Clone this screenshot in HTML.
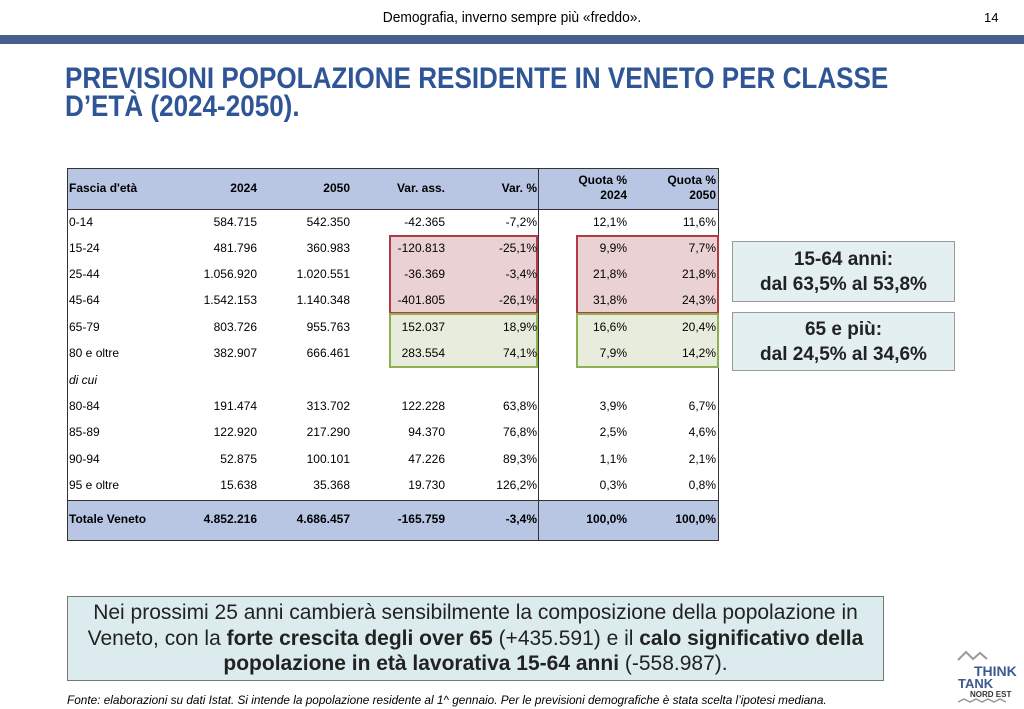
<!DOCTYPE html>
<html><head><meta charset="utf-8"><style>
*{margin:0;padding:0;box-sizing:border-box}
body{width:1024px;height:709px;background:#fff;position:relative;overflow:hidden;font-family:"Liberation Sans",sans-serif;color:#000}
.a{position:absolute;white-space:nowrap}
.r{text-align:right}
.t{font-size:12px}
.b{font-weight:bold}
</style></head><body>
<div class="a" style="left:0;top:9px;width:1024px;text-align:center;font-size:15px;transform:scaleX(0.92)">Demografia, inverno sempre più «freddo».</div>
<div class="a" style="left:984px;top:10px;font-size:13px">14</div>
<div class="a" style="left:0;top:35px;width:1024px;height:9px;background:#45608f"></div>
<div class="a b" style="left:65px;top:64px;font-size:27px;line-height:26px;color:#2f5597;transform:scaleX(0.965) scaleY(1.08);transform-origin:left top">PREVISIONI POPOLAZIONE RESIDENTE IN VENETO PER CLASSE<br>D’ETÀ (2024-2050).</div>

<!-- table -->
<div class="a" style="left:67px;top:168px;width:652px;height:373px;border:1px solid #333"></div>
<div class="a" style="left:68px;top:169px;width:650px;height:41px;background:#b8c6e4;border-bottom:1px solid #333"></div>
<div class="a" style="left:68px;top:500px;width:650px;height:40px;background:#b8c6e4;border-top:1px solid #333"></div>
<div class="a" style="left:389px;top:235px;width:149px;height:79px;background:#ead1d4;border:2px solid #b23a44"></div>
<div class="a" style="left:576px;top:235px;width:143px;height:79px;background:#ead1d4;border:2px solid #b23a44"></div>
<div class="a" style="left:389px;top:313px;width:149px;height:55px;background:#e8ecdc;border:2px solid #8fb050"></div>
<div class="a" style="left:576px;top:313px;width:143px;height:55px;background:#e8ecdc;border:2px solid #8fb050"></div>
<div class="a" style="left:538px;top:168px;width:1px;height:373px;background:#333"></div>

<div class="a t b" style="left:69px;top:181px">Fascia d'età</div>
<div class="a t b r" style="left:157px;top:181px;width:100px">2024</div>
<div class="a t b r" style="left:250px;top:181px;width:100px">2050</div>
<div class="a t b r" style="left:345px;top:181px;width:100px">Var. ass.</div>
<div class="a t b r" style="left:437px;top:181px;width:100px">Var. %</div>
<div class="a t b r" style="left:527px;top:173px;width:100px;line-height:15px">Quota %<br>2024</div>
<div class="a t b r" style="left:616px;top:173px;width:100px;line-height:15px">Quota %<br>2050</div>

<div id="rows"></div>
<script>
var rows=[
[215,"0-14","584.715","542.350","-42.365","-7,2%","12,1%","11,6%"],
[241,"15-24","481.796","360.983","-120.813","-25,1%","9,9%","7,7%"],
[267,"25-44","1.056.920","1.020.551","-36.369","-3,4%","21,8%","21,8%"],
[293,"45-64","1.542.153","1.140.348","-401.805","-26,1%","31,8%","24,3%"],
[320,"65-79","803.726","955.763","152.037","18,9%","16,6%","20,4%"],
[346,"80 e oltre","382.907","666.461","283.554","74,1%","7,9%","14,2%"],
[373,"<i>di cui</i>","","","","","",""],
[399,"80-84","191.474","313.702","122.228","63,8%","3,9%","6,7%"],
[425,"85-89","122.920","217.290","94.370","76,8%","2,5%","4,6%"],
[452,"90-94","52.875","100.101","47.226","89,3%","1,1%","2,1%"],
[478,"95 e oltre","15.638","35.368","19.730","126,2%","0,3%","0,8%"],
[512,"Totale Veneto","4.852.216","4.686.457","-165.759","-3,4%","100,0%","100,0%"]];
var rx=[257,350,445,537,627,716],h="";
rows.forEach(function(r,i){var b=i==11?" b":"";
h+='<div class="a t'+b+'" style="left:69px;top:'+r[0]+'px">'+r[1]+'</div>';
for(var k=0;k<6;k++)h+='<div class="a t r'+b+'" style="left:'+(rx[k]-100)+'px;top:'+r[0]+'px;width:100px">'+r[k+2]+'</div>';});
document.getElementById("rows").innerHTML=h;
</script>

<div class="a b" style="left:732px;top:241px;width:223px;height:61px;background:#e3eff1;border:1px solid #999;text-align:center;font-size:19px;line-height:25px;padding-top:5px;color:#222">15-64 anni:<br>dal 63,5% al 53,8%</div>
<div class="a b" style="left:732px;top:312px;width:223px;height:59px;background:#e3eff1;border:1px solid #999;text-align:center;font-size:19px;line-height:25px;padding-top:4px;color:#222">65 e più:<br>dal 24,5% al 34,6%</div>

<div class="a" style="left:67px;top:596px;width:817px;height:85px;background:#dcecee;border:1px solid #777;text-align:center;font-size:21px;line-height:25.5px;padding-top:3px;color:#222">Nei prossimi 25 anni cambierà sensibilmente la composizione della popolazione in<br>Veneto, con la <b>forte crescita degli over 65</b> (+435.591) e il <b>calo significativo della</b><br><b>popolazione in età lavorativa 15-64 anni</b> (-558.987).</div>

<div class="a" style="left:67px;top:693px;font-size:11.8px;font-style:italic">Fonte: elaborazioni su dati Istat. Si intende la popolazione residente al 1^ gennaio. Per le previsioni demografiche è stata scelta l’ipotesi mediana.</div>

<svg class="a" style="left:950px;top:648px" width="70" height="60">
<polyline points="8,12 16,4 23,11 30,5 37,11" fill="none" stroke="#999" stroke-width="2"/>
<text x="24" y="28" font-family="Liberation Sans" font-weight="bold" font-size="14" fill="#3b5a8e">THINK</text>
<text x="8" y="40" font-family="Liberation Sans" font-weight="bold" font-size="13" fill="#3b5a8e">TANK</text>
<text x="20" y="49" font-family="Liberation Sans" font-weight="bold" font-size="8" fill="#333">NORD EST</text>
<polyline points="8,54 14,51 20,54 26,51 32,54 38,51 44,54 50,51 56,54" fill="none" stroke="#999" stroke-width="1.5"/>
</svg>
</body></html>
